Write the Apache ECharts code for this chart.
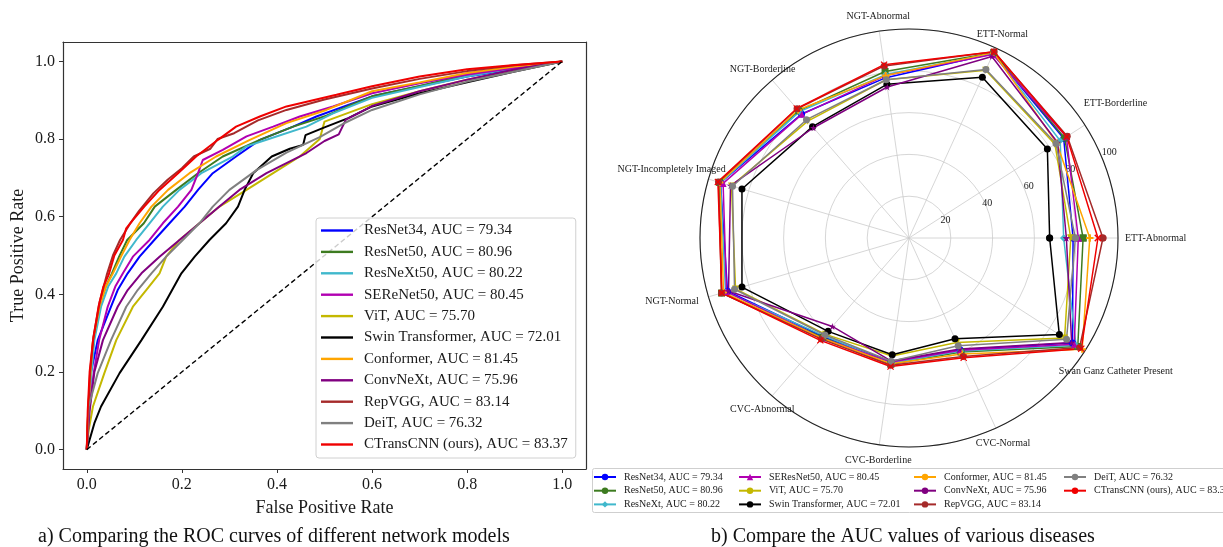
<!DOCTYPE html>
<html>
<head>
<meta charset="utf-8">
<script src="https://cdn.jsdelivr.net/npm/echarts@6/dist/echarts.min.js"></script>
<style>
  html, body { margin: 0; padding: 0; background: #fff; }
  #chart { width: 1223px; height: 547px; }
</style>
</head>
<body>
<div id="chart"></div>
<script>
// ---- data ----
const tickValues = [0, 0.2, 0.4, 0.6, 0.8, 1.0];

const modelColors = ['#0000ff', '#3d7b20', '#40b8cc', '#b100b1', '#c4b800', '#000000',
                     '#ffa500', '#800080', '#a52a2a', '#808080', '#f00000'];

const rocNames = ['ResNet34, AUC = 79.34', 'ResNet50, AUC = 80.96', 'ResNeXt50, AUC = 80.22',
                  'SEReNet50, AUC = 80.45', 'ViT, AUC = 75.70', 'Swin Transformer, AUC = 72.01',
                  'Conformer, AUC = 81.45', 'ConvNeXt, AUC = 75.96', 'RepVGG, AUC = 83.14',
                  'DeiT, AUC = 76.32', 'CTransCNN (ours), AUC = 83.37'];

const radarNames = ['ResNet34, AUC = 79.34', 'ResNet50, AUC = 80.96', 'ResNeXt, AUC = 80.22',
                    'SEResNet50, AUC = 80.45', 'ViT, AUC = 75.70', 'Swin Transformer, AUC = 72.01',
                    'Conformer, AUC = 81.45', 'ConvNeXt, AUC = 75.96', 'RepVGG, AUC = 83.14',
                    'DeiT, AUC = 76.32', 'CTransCNN (ours), AUC = 83.37'];

// ROC curves [fpr, tpr]
const rocResNet34 = [[0,0],[0.004,0.1],[0.009,0.2],[0.023,0.282],[0.051,0.368],[0.065,0.411],[0.086,0.454],
  [0.111,0.497],[0.142,0.54],[0.174,0.583],[0.206,0.626],[0.234,0.669],[0.265,0.712],[0.314,0.755],
  [0.364,0.798],[0.434,0.832],[0.483,0.858],[0.55,0.888],[0.6,0.91],[0.7,0.936],[0.8,0.961],[0.9,0.98],[1,1]];
const rocResNet50 = [[0,0],[0.003,0.1],[0.008,0.2],[0.014,0.28],[0.027,0.37],[0.04,0.42],[0.053,0.454],
  [0.068,0.497],[0.085,0.54],[0.12,0.583],[0.143,0.626],[0.188,0.669],[0.234,0.712],[0.286,0.755],
  [0.364,0.798],[0.434,0.832],[0.504,0.86],[0.55,0.885],[0.6,0.91],[0.7,0.937],[0.8,0.966],[0.9,0.985],[1,1]];
const rocResNeXt50 = [[0,0],[0.004,0.1],[0.01,0.2],[0.016,0.282],[0.03,0.368],[0.045,0.42],[0.062,0.454],
  [0.079,0.497],[0.104,0.54],[0.132,0.583],[0.16,0.626],[0.195,0.669],[0.241,0.712],[0.307,0.755],
  [0.336,0.781],[0.378,0.798],[0.462,0.832],[0.518,0.866],[0.6,0.906],[0.7,0.934],[0.8,0.961],[0.9,0.983],[1,1]];
const rocSEReNet50 = [[0,0],[0.005,0.1],[0.015,0.2],[0.026,0.282],[0.044,0.368],[0.06,0.42],[0.076,0.454],
  [0.097,0.497],[0.132,0.54],[0.16,0.583],[0.192,0.626],[0.22,0.669],[0.234,0.712],[0.244,0.746],
  [0.286,0.772],[0.336,0.807],[0.392,0.832],[0.448,0.858],[0.518,0.884],[0.6,0.918],[0.7,0.944],[0.8,0.966],[0.9,0.983],[1,1]];
const rocViT = [[0,0],[0.004,0.05],[0.013,0.111],[0.037,0.197],[0.062,0.282],[0.097,0.368],[0.125,0.411],
  [0.153,0.454],[0.167,0.497],[0.195,0.54],[0.237,0.583],[0.279,0.626],[0.336,0.669],[0.392,0.712],
  [0.448,0.755],[0.49,0.8],[0.5,0.845],[0.6,0.89],[0.7,0.923],[0.8,0.953],[0.9,0.977],[1,1]];
const rocSwin = [[0,0],[0.016,0.068],[0.03,0.111],[0.069,0.197],[0.115,0.282],[0.16,0.368],[0.199,0.454],
  [0.227,0.497],[0.258,0.54],[0.293,0.583],[0.318,0.626],[0.332,0.669],[0.35,0.712],[0.389,0.755],
  [0.427,0.775],[0.455,0.785],[0.46,0.81],[0.5,0.83],[0.55,0.854],[0.6,0.884],[0.7,0.918],[0.8,0.946],[0.9,0.974],[1,1]];
const rocConformer = [[0,0],[0.003,0.1],[0.008,0.2],[0.013,0.28],[0.027,0.37],[0.04,0.42],[0.055,0.454],
  [0.072,0.497],[0.09,0.54],[0.111,0.583],[0.136,0.626],[0.171,0.669],[0.216,0.712],[0.272,0.755],
  [0.343,0.798],[0.42,0.841],[0.504,0.875],[0.6,0.923],[0.7,0.946],[0.8,0.97],[0.9,0.987],[1,1]];
const rocConvNeXt = [[0,0],[0.006,0.1],[0.016,0.2],[0.034,0.282],[0.065,0.368],[0.086,0.411],[0.115,0.454],
  [0.153,0.497],[0.195,0.54],[0.237,0.583],[0.279,0.626],[0.321,0.669],[0.378,0.712],[0.42,0.738],
  [0.462,0.764],[0.5,0.795],[0.53,0.812],[0.545,0.85],[0.6,0.885],[0.7,0.923],[0.8,0.953],[0.9,0.979],[1,1]];
const rocRepVGG = [[0,0],[0.003,0.1],[0.007,0.2],[0.014,0.29],[0.027,0.38],[0.042,0.45],[0.055,0.5],
  [0.07,0.54],[0.09,0.58],[0.11,0.615],[0.14,0.66],[0.17,0.695],[0.2,0.725],[0.225,0.755],[0.26,0.775],
  [0.275,0.8],[0.31,0.815],[0.36,0.848],[0.42,0.875],[0.5,0.902],[0.6,0.93],[0.7,0.955],[0.8,0.975],[0.9,0.99],[1,1]];
const rocDeiT = [[0,0],[0.002,0.05],[0.004,0.111],[0.023,0.197],[0.051,0.282],[0.083,0.368],[0.107,0.411],
  [0.136,0.454],[0.167,0.497],[0.202,0.54],[0.237,0.583],[0.265,0.626],[0.3,0.669],[0.357,0.72],
  [0.42,0.765],[0.49,0.805],[0.54,0.84],[0.6,0.875],[0.7,0.915],[0.8,0.948],[0.9,0.974],[1,1]];
const rocCTransCNN = [[0,0],[0.002,0.1],[0.006,0.2],[0.013,0.28],[0.025,0.37],[0.035,0.42],[0.046,0.45],
  [0.058,0.5],[0.076,0.54],[0.083,0.57],[0.096,0.59],[0.121,0.626],[0.153,0.669],[0.192,0.712],
  [0.23,0.755],[0.276,0.798],[0.314,0.832],[0.364,0.858],[0.42,0.884],[0.525,0.914],[0.6,0.936],
  [0.7,0.961],[0.8,0.98],[0.9,0.991],[1,1]];
const chanceLine = [[0,0],[1,1]];

// AUC per disease (radar)
const diseases = ['ETT-Abnormal', 'ETT-Borderline', 'ETT-Normal', 'NGT-Abnormal', 'NGT-Borderline',
                  'NGT-Incompletely Imaged', 'NGT-Normal', 'CVC-Abnormal', 'CVC-Borderline',
                  'CVC-Normal', 'Swan Ganz Catheter Present'];
const radialTicks = [20, 40, 60, 80, 100];

const aucResNet34   = [78.5, 88.0, 97.0, 77.5, 78.5, 94.0, 90.5, 62.5, 59.8, 58.8, 93.0];
const aucResNet50   = [83.3, 88.5, 97.5, 80.5, 80.5, 94.5, 93.5, 63.0, 61.0, 60.0, 96.0];
const aucResNeXt    = [74.0, 86.0, 97.0, 79.0, 80.0, 94.0, 91.5, 62.0, 60.5, 59.5, 95.0];
const aucSEResNet50 = [81.0, 89.5, 96.5, 78.5, 78.3, 92.7, 91.0, 63.5, 60.0, 59.0, 94.0];
const aucViT        = [77.4, 83.0, 88.3, 76.5, 74.0, 88.5, 86.5, 61.0, 57.0, 55.0, 88.5];
const aucSwin       = [67.3, 78.7, 84.5, 74.3, 70.5, 83.3, 83.3, 59.1, 56.4, 53.0, 85.5];
const aucConformer  = [86.5, 84.0, 97.5, 78.5, 81.0, 94.3, 92.5, 63.5, 60.8, 61.0, 98.5];
const aucConvNeXt   = [75.3, 84.5, 95.5, 73.0, 69.8, 89.0, 90.0, 56.0, 59.5, 58.4, 92.5];
const aucRepVGG     = [92.8, 90.0, 98.0, 83.2, 81.8, 95.0, 93.5, 64.0, 61.5, 62.3, 97.0];
const aucDeiT       = [79.6, 83.6, 88.6, 76.5, 74.9, 88.0, 87.0, 61.4, 59.6, 56.7, 89.6];
const aucCTransCNN  = [90.4, 89.7, 98.0, 83.8, 82.0, 95.3, 93.3, 64.8, 62.1, 63.0, 98.0];

const rocSets = [rocResNet34, rocResNet50, rocResNeXt50, rocSEReNet50, rocViT, rocSwin,
                 rocConformer, rocConvNeXt, rocRepVGG, rocDeiT, rocCTransCNN];
const aucSets = [aucResNet34, aucResNet50, aucResNeXt, aucSEResNet50, aucViT, aucSwin,
                 aucConformer, aucConvNeXt, aucRepVGG, aucDeiT, aucCTransCNN];

// marker shapes for the radar panel
const STAR = 'path://M50,0L61,35L98,35L68,57L79,91L50,70L21,91L32,57L2,35L39,35Z';
const PLUS = 'path://M35,0H65V35H100V65H65V100H35V65H0V35H35Z';
const CROSS = 'path://M0,12L12,0L50,38L88,0L100,12L62,50L100,88L88,100L50,62L12,100L0,88L38,50Z';
const TRI_DOWN = 'path://M0,0L100,0L50,100Z';
const markers = ['circle', 'rect', 'diamond', 'triangle', TRI_DOWN, 'circle',
                 PLUS, STAR, 'circle', 'circle', CROSS];

const SERIF = "'Liberation Serif', 'DejaVu Serif', serif";
const INK = '#1a1a1a';

// nudges for the category labels round the radar (matplotlib centres them on the spoke)
const labelPads = {
    1: [0, 0, 13, -7],
    2: [0, 0, 2, -22],
    3: [0, 0, 3, 0],
    4: [0, -28, 0, 0],
    5: [0, -24, 16, 0],
    6: [6, 3, 0, 0],
    7: [3, -27, 0, 0],
    8: [4, 0, 0, 0],
    9: [4, 0, 0, -23],
    10: [12, 0, 0, -32]
};
let labelRich = {};
diseases.forEach((d, i) => {
    labelRich['d' + i] = {fontFamily: SERIF, fontSize: 10, color: INK, padding: labelPads[i] || 0};
});

// ---- chart ----
const chart = echarts.init(document.getElementById('chart'), null, {renderer: 'canvas'});

let series = [];

rocSets.forEach((d, i) => {
    series.push({
        name: rocNames[i],
        type: 'line',
        xAxisIndex: 0,
        yAxisIndex: 0,
        data: d,
        showSymbol: false,
        symbol: 'none',
        animation: false,
        lineStyle: {color: modelColors[i], width: 2},
        itemStyle: {color: modelColors[i]}
    });
});

series.push({
    type: 'line',
    xAxisIndex: 0,
    yAxisIndex: 0,
    data: chanceLine,
    symbol: 'none',
    silent: true,
    animation: false,
    lineStyle: {color: '#000', width: 1.4, type: [5, 3]}
});

aucSets.forEach((vals, i) => {
    let closed = vals.concat([vals[0]]).map((v, k) => [v, k]);
    series.push({
        name: radarNames[i],
        type: 'line',
        coordinateSystem: 'polar',
        polarIndex: 0,
        data: closed,
        symbol: markers[i],
        symbolSize: 7,
        animation: false,
        lineStyle: {color: modelColors[i], width: 1.5},
        itemStyle: {color: modelColors[i]}
    });
});

const legendCols = [[0, 1, 2], [3, 4, 5], [6, 7, 8], [9, 10]];
const legendX = [593, 738, 913, 1063];

let legends = [{
    left: 316, top: 218,
    orient: 'vertical',
    data: rocNames.map((n, i) => ({name: n, icon: 'rect', itemStyle: {color: modelColors[i]}})),
    itemWidth: 32, itemHeight: 2.4, itemGap: 6.4,
    padding: [5, 8, 6, 5],
    backgroundColor: 'rgba(255,255,255,0.8)',
    borderColor: '#d0d0d0', borderWidth: 1, borderRadius: 3,
    selectedMode: false,
    textStyle: {fontFamily: SERIF, fontSize: 15, color: INK, padding: [0, 0, 0, 6]}
}];

legendCols.forEach((col, c) => {
    legends.push({
        left: legendX[c], top: 472,
        orient: 'vertical',
        data: col.map(k => radarNames[k]),
        itemWidth: 22, itemHeight: 8, itemGap: 3.7,
        padding: 0,
        selectedMode: false,
        textStyle: {fontFamily: SERIF, fontSize: 10, lineHeight: 10, color: INK, padding: [0, 0, 0, 3]}
    });
});

const option = {
    backgroundColor: '#fff',
    animation: false,
    textStyle: {fontFamily: SERIF},
    title: [
        {text: 'a) Comparing the ROC curves of different network models', left: 38, top: 527, padding: 0,
         textStyle: {fontFamily: SERIF, fontWeight: 'normal', fontSize: 20, color: '#111'}},
        {text: 'b) Compare the AUC values of various diseases', left: 711, top: 527, padding: 0,
         textStyle: {fontFamily: SERIF, fontWeight: 'normal', fontSize: 20, color: '#111'}}
    ],
    graphic: [{
        type: 'rect', z: 1,
        shape: {x: 592.5, y: 468.5, width: 640, height: 44, r: 2},
        style: {fill: '#fff', stroke: '#cfcfcf', lineWidth: 1}
    }],
    legend: legends,
    grid: [{left: 63, top: 42, width: 523, height: 427}],
    xAxis: [{
        type: 'value', gridIndex: 0, position: 'bottom', min: -0.05, max: 1.05,
        name: 'False Positive Rate', nameLocation: 'middle', nameGap: 30,
        nameTextStyle: {fontFamily: SERIF, fontSize: 18, color: INK},
        axisLine: {onZero: false, lineStyle: {color: '#333', width: 1.2}},
        axisTick: {show: true, inside: false, length: 4, customValues: tickValues, lineStyle: {color: '#333'}},
        axisLabel: {customValues: tickValues, formatter: v => v.toFixed(1), margin: 8,
                    fontFamily: SERIF, fontSize: 16, color: INK},
        splitLine: {show: false}
    }, {
        type: 'value', gridIndex: 0, position: 'top', min: -0.05, max: 1.05,
        axisLine: {onZero: false, lineStyle: {color: '#333', width: 1.2}},
        axisTick: {show: false}, axisLabel: {show: false}, splitLine: {show: false}
    }],
    yAxis: [{
        type: 'value', gridIndex: 0, position: 'left', min: -0.05, max: 1.05,
        name: 'True Positive Rate', nameLocation: 'middle', nameGap: 36,
        nameTextStyle: {fontFamily: SERIF, fontSize: 18, color: INK},
        axisLine: {show: true, onZero: false, lineStyle: {color: '#333', width: 1.2}},
        axisTick: {show: true, inside: false, length: 4, customValues: tickValues, lineStyle: {color: '#333'}},
        axisLabel: {customValues: tickValues, formatter: v => v.toFixed(1), margin: 8,
                    fontFamily: SERIF, fontSize: 16, color: INK},
        splitLine: {show: false}
    }, {
        type: 'value', gridIndex: 0, position: 'right', min: -0.05, max: 1.05,
        axisLine: {show: true, onZero: false, lineStyle: {color: '#333', width: 1.2}},
        axisTick: {show: false}, axisLabel: {show: false}, splitLine: {show: false}
    }],
    polar: [
        {center: [909, 238], radius: 209},
        {center: [909, 238], radius: 225}
    ],
    angleAxis: [{
        polarIndex: 0, type: 'value', min: 0, max: diseases.length, interval: 1,
        startAngle: 0, clockwise: false,
        axisLine: {show: true, lineStyle: {color: '#222', width: 1.1}},
        axisTick: {show: false},
        splitLine: {show: true, lineStyle: {color: '#cccccc', width: 0.8}},
        axisLabel: {formatter: v => (diseases[v] ? '{d' + v + '|' + diseases[v] + '}' : ''),
                    rich: labelRich, margin: 7,
                    fontFamily: SERIF, fontSize: 10, color: INK}
    }, {
        polarIndex: 1, type: 'value', min: 0, max: 360, startAngle: 22.5, clockwise: false,
        axisLine: {show: false}, axisTick: {show: false}, axisLabel: {show: false}, splitLine: {show: false}
    }],
    radiusAxis: [{
        polarIndex: 0, type: 'value', min: 0, max: 100, interval: 20,
        axisLine: {show: false}, axisTick: {show: false}, axisLabel: {show: false},
        splitLine: {show: true, showMaxLine: false, lineStyle: {color: '#cccccc', width: 0.8}}
    }, {
        polarIndex: 1, type: 'value', min: 0, max: 100, interval: 20,
        axisLine: {show: false}, axisTick: {show: false}, splitLine: {show: false},
        axisLabel: {formatter: v => (radialTicks.indexOf(v) >= 0 ? String(v) : ''), margin: 0,
                    padding: [0, 0, 0, 10],
                    fontFamily: SERIF, fontSize: 10, color: INK}
    }],
    series: series
};

chart.setOption(option);
</script>
</body>
</html>
